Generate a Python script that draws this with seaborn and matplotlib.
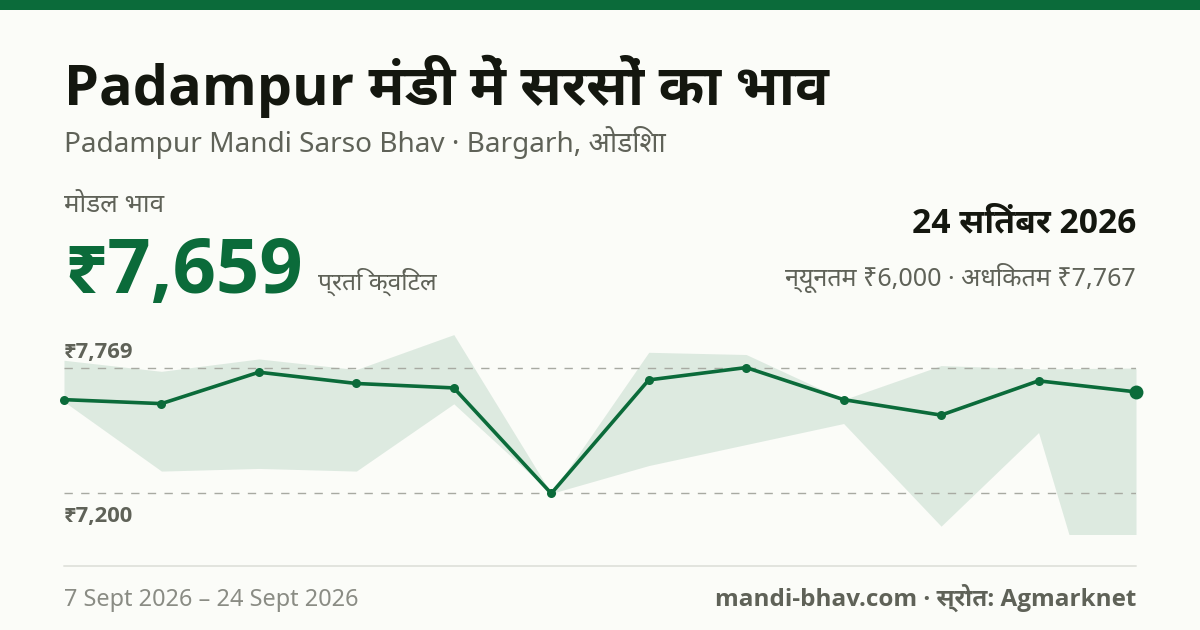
import matplotlib
matplotlib.use('Agg')
import matplotlib.pyplot as plt
from matplotlib.lines import Line2D
from matplotlib.patches import Rectangle
import pandas as pd
import seaborn as sns

sns.set_theme(style='white')
plt.rcParams['font.family'] = ['Noto Sans', 'Noto Sans Devanagari', 'DejaVu Sans']
BOLD_FONTS = ['Open Sans', 'Noto Sans Devanagari UI', 'Noto Sans', 'DejaVu Sans']

# mandi prices
day_idx = [0, 1, 2, 3, 4, 5, 6, 7, 8, 9, 10, 11]
modal = [7624, 7606, 7748, 7697, 7677, 7200, 7713, 7769, 7624, 7554, 7709, 7659]
low = [7615, 7301, 7313, 7301, 7605, 7200, 7326, 7421, 7516, 7052, 7475, 6000]
high = [7802, 7752, 7808, 7760, 7918, 7200, 7838, 7828, 7624, 7778, 7763, 7767]
ref_lines = [7769, 7200]
ref_labels = ['₹7,769', '₹7,200']

GREEN = '#0b6b3a'
BG = '#fbfcf8'
W, H = 1200, 630

df = pd.DataFrame({'day': day_idx, 'modal': modal})

fig = plt.figure(figsize=(12, 6.3), dpi=100, facecolor=BG)


def put(x, y, s, size, color, bold=False, ha='left'):
    # x, y are pixels from top left, y is the baseline
    t = fig.text(x / W, 1 - y / H, s, fontsize=size * 0.72, color=color, ha=ha, va='baseline')
    if bold:
        t.set_family(BOLD_FONTS)
        t.set_weight('bold')
    return t


fig.add_artist(Rectangle((0, 1 - 10 / H), 1, 10 / H, transform=fig.transFigure, color=GREEN, lw=0))

# chart area runs 64..1136 px, 329.5..533.5 px
ax = fig.add_axes([64 / W, 1 - 533.5 / H, 1072 / W, 204 / H])
ax.set_facecolor('none')
ax.fill_between(day_idx, low, high, color=GREEN, alpha=0.12, lw=0)
for v in ref_lines:
    ax.axhline(v, color='#a8aaa2', lw=1, ls=(0, (6, 6)), zorder=2)
sns.lineplot(data=df, x='day', y='modal', ax=ax, color=GREEN, lw=2.6, marker='o', markersize=6.5,
             markeredgewidth=0, zorder=4, clip_on=False)
sns.scatterplot(data=df.iloc[[-1]], x='day', y='modal', ax=ax, color=GREEN, s=100, linewidth=0,
                zorder=5, clip_on=False)
ax.set_xlim(0, 11)
ax.set_ylim(7019, 7941)
ax.set_axis_off()

put(64, 105, 'Padampur मंडी में सरसों का भाव', 55.8, '#14170f', bold=True)
put(64, 152, 'Padampur Mandi Sarso Bhav · Bargarh, ओडिशा', 28, '#5f6258')
put(64, 212, 'मोडल भाव', 26, '#5f6258')
put(64, 293, '₹7,659', 76, GREEN, bold=True)
put(318, 290, 'प्रति क्विंटल', 24.6, '#5f6258')
put(1136, 232, '24 सितंबर 2026', 33.7, '#14170f', bold=True, ha='right')
put(1136, 286, 'न्यूनतम ₹6,000 · अधिकतम ₹7,767', 25.15, '#5f6258', ha='right')
put(64, 358, ref_labels[0], 22, '#5f6258', bold=True)
put(64, 522, ref_labels[1], 22, '#5f6258', bold=True)

fig.add_artist(Line2D([64 / W, 1136 / W], [1 - 566 / H] * 2, transform=fig.transFigure, color='#e2e4de', lw=1.4))
put(64, 606, '7 Sept 2026 – 24 Sept 2026', 23.5, '#8a8c84')
put(1136, 606, 'mandi-bhav.com · स्रोत: Agmarknet', 24.2, '#5f6258', bold=True, ha='right')

fig.savefig('out.png', dpi=100, facecolor=BG)
